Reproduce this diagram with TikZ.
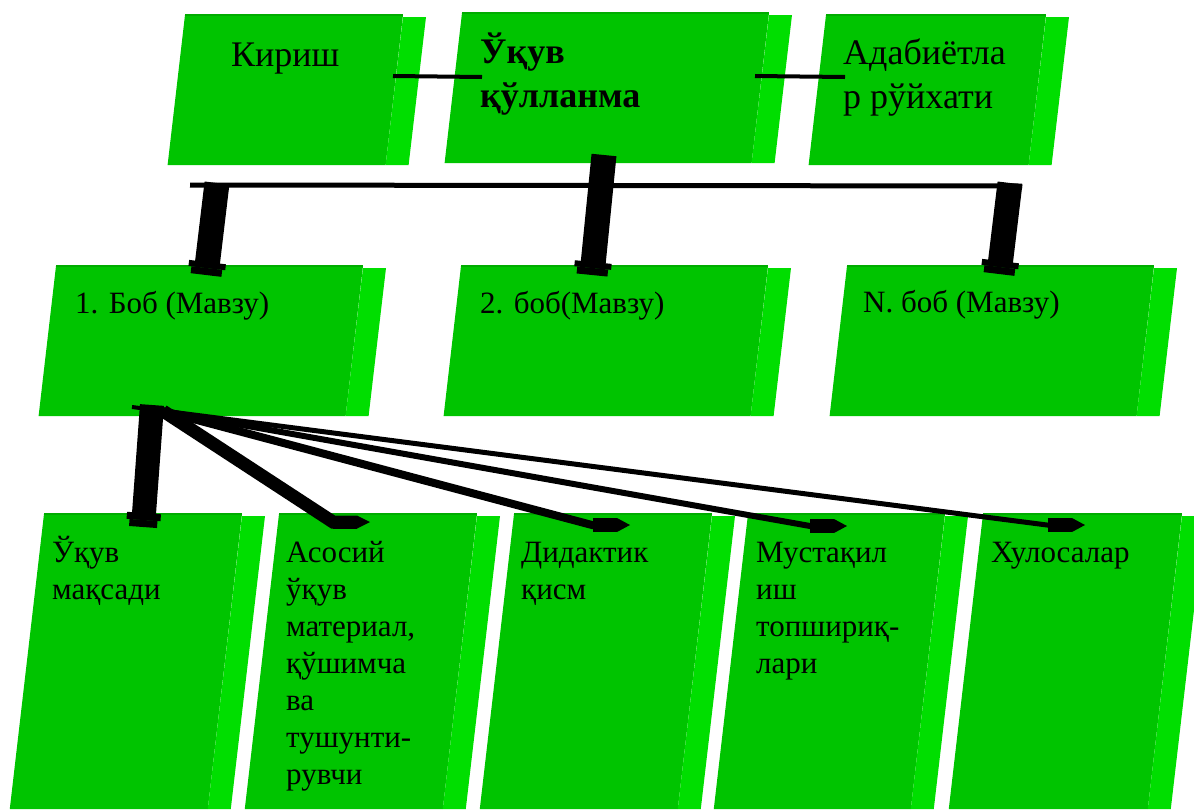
\documentclass[tikz,border=0pt]{standalone}
\usepackage{fontspec}
\setmainfont{Liberation Serif}
\newfontfamily\uzfont{Liberation Serif}
\usetikzlibrary{arrows.meta}
\definecolor{boxgreen}{RGB}{0,196,0}
\definecolor{sidegreen}{RGB}{0,222,0}
\definecolor{edgegreen}{RGB}{0,172,0}

% slanted green block: name, x, y, width, height
\newcommand{\greenbox}[5]{%
  \pgfmathsetmacro{\gslant}{0.116*#5}
  \fill[boxgreen] (#2,#3) -- ++(#4,0) -- ++(-\gslant,#5) -- ++(-#4,0) -- cycle;
  \fill[sidegreen] (#2+#4,#3+2) -- ++(23,0) -- ++(-\gslant,#5-2) -- ++(-23,0) -- cycle;
  \draw[edgegreen, line width=1.5pt] (#2,#3) -- ++(#4,0);
  \coordinate (#1) at (#2,#3);
}

\tikzset{
  lbl/.style={inner sep=0pt, anchor=base west, align=left},
  bigfont/.style={lbl, font=\uzfont\fontsize{36}{44}\selectfont},
  topbold/.style={lbl, font=\uzfont\fontsize{36}{44}\selectfont\bfseries},
  midfont/.style={lbl, font=\uzfont\fontsize{31}{37}\selectfont},
  link/.style={line width=4pt},
  blockarrow/.style={line width=25pt, -{Square[length=6pt,width=37pt,line width=0pt]Square[length=7pt,width=31pt,line width=0pt]}},
  fanarrow/.style={-{Square[length=24pt,width=#1,line width=0pt]Triangle[length=13pt,width=#1,line width=0pt]}},
  fanarrow/.default=14pt
}

\begin{document}
\begin{tikzpicture}[x=1pt,y=-1pt]
\useasboundingbox (0,0) rectangle (1194,809);
\clip (0,0) rectangle (1194,809);
% top row
\greenbox{kirish}{185}{15}{218}{150}
\greenbox{ukuv}{462}{13}{307}{150}
\greenbox{adab}{826}{15}{220}{150}
% chapters
\greenbox{bob1}{56}{266}{307}{150}
\greenbox{bob2}{461}{266}{307}{150}
\greenbox{bobN}{847}{266}{307}{150}
% parts of a chapter
\greenbox{maqsad}{44}{514}{198}{295}
\greenbox{asosiy}{279}{514}{198}{295}
\greenbox{didaktik}{514}{514}{198}{295}
\greenbox{mustaqil}{748}{514}{197}{295}
\greenbox{xulosa}{983}{514}{199}{295}

% texts (multi-line nodes sit on their last line)
\node[bigfont] (kirishtxt) at (231,66) {Кириш};
\node[topbold] (ukuvtxt) at (480,107) {Ўқув\\қўлланма};
\node[bigfont] (adabtxt) at (843,108) {Адабиётла\\р рўйхати};
\node[midfont] (bob1txt) at (75,313) {1. Боб (Мавзу)};
\node[midfont] (bob2txt) at (480,313) {2. боб(Мавзу)};
\node[midfont] (bobNtxt) at (863,312) {N. боб (Мавзу)};
\node[midfont] (maqsadtxt) at (52,599) {Ўқув\\мақсади};
\node[midfont] (asosiytxt) at (286,784) {Асосий\\ўқув\\материал,\\қўшимча\\ва\\тушунти-\\рувчи};
\node[midfont] (didaktiktxt) at (521,599) {Дидактик\\қисм};
\node[midfont] (mustaqiltxt) at (756,673) {Мустақил\\иш\\топшириқ-\\лари};
\node[midfont] (xulosatxt) at (991,562) {Хулосалар};

% links of the top row
\coordinate (kirishR) at (393,76);
\coordinate (ukuvL) at (482,77);
\coordinate (ukuvR) at (755,76);
\coordinate (adabL) at (845,77);
\draw[link] (kirishR) -- (ukuvL);
\draw[link] (ukuvR) -- (adabL);

% bar and arrows to the chapters
\coordinate (barL) at (190,185);
\coordinate (barR) at (1022,186);
\draw[line width=5pt] (barL) -- (barR);
\coordinate (ukuvB) at (604,155);
\coordinate (bar1) at (217,183);
\coordinate (barN) at (1010,183);
\coordinate (bob1T) at (206,275);
\coordinate (bob2T) at (592,275);
\coordinate (bobNT) at (999,274);
\draw[blockarrow] (bar1) -- (bob1T);
\draw[blockarrow] (ukuvB) -- (bob2T);
\draw[blockarrow] (barN) -- (bobNT);

% fan from chapter 1
\coordinate (fanL) at (132,407);
\coordinate (fanA) at (152,405);
\coordinate (fan) at (163,411);
\coordinate (maqsadT) at (143,527);
\coordinate (asosiyK) at (333,522);
\coordinate (asosiyT) at (370,522);
\coordinate (didaktikK) at (592,525);
\coordinate (didaktikT) at (630,525);
\coordinate (mustaqilK) at (810,526);
\coordinate (mustaqilT) at (847,526);
\coordinate (xulosaK) at (1047,525);
\coordinate (xulosaT) at (1085,525);
\draw[line width=4pt] (fanL) -- (fan);
\draw[line width=24pt, -{Square[length=7pt,width=34pt,line width=0pt]Square[length=7pt,width=28pt,line width=0pt]}] (fanA) -- (maqsadT);
\draw[fanarrow=13pt, line width=13pt] (fan) -- (asosiyK) -- (asosiyT);
\draw[fanarrow, line width=8pt] (fan) -- (didaktikK) -- (didaktikT);
\draw[fanarrow, line width=6pt] (fan) -- (mustaqilK) -- (mustaqilT);
\draw[fanarrow, line width=5pt] (fan) -- (xulosaK) -- (xulosaT);
\end{tikzpicture}
\end{document}
